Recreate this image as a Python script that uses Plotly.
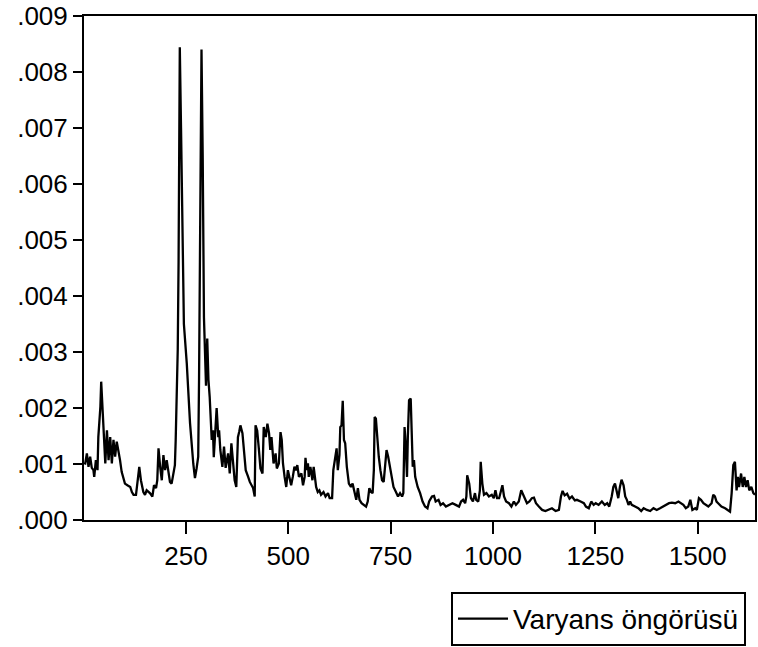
import numpy as np
import plotly.graph_objects as go

# Observation index and variance forecast (in thousandths)
obs = [
    1, 4, 8, 12, 16, 20, 24, 26, 30, 34, 36, 41, 43, 46, 49, 53, 57, 61, 65, 69,
    73, 77, 81, 85, 89, 93, 97, 101, 107, 114, 118, 122, 128, 131, 136, 140, 146, 150, 154, 162,
    168, 172, 177, 180, 183, 187, 191, 195, 199, 203, 207, 211, 215, 219, 223, 225, 227, 230, 232, 234,
    235, 238, 240, 242, 245, 252, 260, 268, 272, 276, 280, 282, 284, 286, 288, 291, 292, 294, 299, 302,
    305, 308, 313, 316, 318, 325, 329, 331, 334, 339, 343, 347, 353, 357, 361, 365, 369, 373, 377, 380,
    383, 388, 391, 396, 402, 406, 414, 418, 420, 424, 428, 432, 437, 440, 445, 449, 453, 456, 459, 464,
    469, 472, 477, 481, 484, 487, 491, 495, 499, 503, 507, 511, 515, 519, 522, 526, 532, 536, 540, 542,
    545, 548, 550, 554, 559, 562, 565, 568, 572, 576, 580, 586, 591, 597, 601, 607, 610, 615, 618, 621,
    625, 627, 630, 633, 636, 639, 643, 648, 653, 657, 662, 666, 670, 674, 679, 686, 690, 694, 698, 702,
    706, 709, 711, 714, 717, 721, 725, 729, 733, 737, 740, 744, 747, 750, 753, 757, 763, 768, 773, 778,
    781, 784, 787, 790, 792, 795, 799, 801, 804, 807, 810, 816, 822, 828, 834, 840, 844, 851, 856, 860,
    867, 872, 878, 885, 893, 901, 909, 917, 922, 927, 932, 935, 937, 942, 946, 951, 956, 959, 964, 968,
    970, 974, 978, 984, 990, 997, 1002, 1006, 1010, 1015, 1023, 1027, 1032, 1039, 1045, 1051, 1056, 1063, 1069, 1073,
    1077, 1083, 1089, 1095, 1100, 1105, 1112, 1120, 1128, 1136, 1144, 1153, 1161, 1166, 1170, 1175, 1181, 1187, 1193, 1200,
    1205, 1214, 1222, 1227, 1234, 1240, 1246, 1251, 1258, 1266, 1273, 1279, 1284, 1290, 1294, 1298, 1302, 1306, 1310, 1314,
    1319, 1323, 1327, 1331, 1335, 1339, 1347, 1355, 1362, 1368, 1376, 1384, 1392, 1400, 1408, 1416, 1424, 1430, 1437, 1445,
    1453, 1459, 1465, 1471, 1477, 1482, 1487, 1494, 1498, 1503, 1508, 1514, 1519, 1526, 1534, 1538, 1542, 1546, 1550, 1558,
    1567, 1575, 1579, 1583, 1587, 1591, 1595, 1598, 1601, 1606, 1610, 1614, 1618, 1622, 1626, 1631, 1636, 1640,
]

variance_milli = [
    1.02, 1.01, 1.19, 0.95, 1.13, 0.93, 0.89, 0.77, 1.07, 0.89, 1.48, 2.02, 2.47, 2.08, 1.66, 1.01, 1.60, 1.07, 1.48, 1.01,
    1.43, 1.13, 1.40, 1.25, 1.07, 0.86, 0.77, 0.65, 0.62, 0.59, 0.50, 0.45, 0.45, 0.62, 0.95, 0.71, 0.50, 0.45, 0.53, 0.48,
    0.42, 0.62, 0.57, 0.71, 1.28, 0.95, 0.71, 1.16, 0.89, 1.07, 0.83, 0.68, 0.65, 0.83, 0.98, 1.43, 2.08, 3.05, 4.60, 6.90,
    8.44, 7.00, 5.76, 4.69, 3.50, 2.80, 1.73, 1.00, 0.75, 0.92, 1.13, 2.50, 4.60, 6.50, 8.40, 6.47, 4.94, 3.62, 2.40, 3.24,
    2.50, 2.20, 1.43, 1.60, 1.12, 2.00, 1.48, 1.60, 1.25, 0.95, 1.31, 0.93, 1.19, 0.83, 1.37, 1.01, 0.71, 0.59, 1.48, 1.57,
    1.69, 1.55, 1.25, 0.89, 0.77, 0.68, 0.57, 0.42, 1.69, 1.60, 1.28, 0.92, 0.83, 1.66, 1.48, 1.72, 1.55, 1.25, 1.48, 1.01,
    1.19, 0.92, 1.01, 1.57, 1.43, 1.01, 0.77, 0.59, 0.89, 0.74, 0.62, 0.77, 0.95, 0.89, 0.98, 0.77, 0.83, 0.62, 0.77, 1.11,
    0.89, 1.01, 0.77, 0.95, 0.71, 0.95, 0.71, 0.59, 0.50, 0.53, 0.45, 0.50, 0.42, 0.48, 0.39, 0.39, 0.89, 1.13, 1.28, 0.89,
    1.16, 1.66, 1.69, 2.13, 1.43, 1.37, 0.95, 0.65, 0.59, 0.65, 0.45, 0.36, 0.57, 0.36, 0.30, 0.27, 0.24, 0.33, 0.57, 0.50,
    0.48, 0.89, 1.84, 1.81, 1.48, 1.13, 0.89, 0.71, 0.68, 1.07, 1.25, 1.13, 1.01, 0.89, 0.77, 0.59, 0.50, 0.42, 0.48, 0.42,
    0.48, 1.66, 1.31, 0.77, 1.48, 2.14, 2.17, 1.48, 0.95, 1.07, 0.77, 0.59, 0.48, 0.33, 0.24, 0.21, 0.33, 0.42, 0.43, 0.33,
    0.36, 0.27, 0.30, 0.24, 0.27, 0.30, 0.27, 0.24, 0.33, 0.36, 0.30, 0.42, 0.80, 0.65, 0.39, 0.33, 0.48, 0.36, 0.33, 0.53,
    1.04, 0.65, 0.45, 0.48, 0.42, 0.45, 0.39, 0.53, 0.39, 0.39, 0.62, 0.42, 0.33, 0.30, 0.24, 0.33, 0.27, 0.33, 0.53, 0.47,
    0.39, 0.30, 0.33, 0.39, 0.40, 0.30, 0.24, 0.18, 0.16, 0.18, 0.21, 0.16, 0.18, 0.42, 0.52, 0.44, 0.47, 0.38, 0.42, 0.35,
    0.36, 0.33, 0.30, 0.24, 0.21, 0.33, 0.27, 0.30, 0.27, 0.33, 0.27, 0.30, 0.24, 0.42, 0.59, 0.65, 0.53, 0.39, 0.59, 0.72,
    0.62, 0.42, 0.36, 0.27, 0.33, 0.27, 0.24, 0.21, 0.16, 0.21, 0.18, 0.16, 0.21, 0.18, 0.21, 0.24, 0.27, 0.30, 0.31, 0.30,
    0.33, 0.30, 0.27, 0.21, 0.24, 0.36, 0.18, 0.21, 0.18, 0.39, 0.36, 0.30, 0.27, 0.24, 0.30, 0.45, 0.42, 0.33, 0.30, 0.24,
    0.21, 0.18, 0.15, 0.48, 0.98, 1.04, 0.53, 0.77, 0.59, 0.83, 0.59, 0.77, 0.59, 0.71, 0.53, 0.59, 0.48, 0.45,
]

y_ticks = [0.000, 0.001, 0.002, 0.003, 0.004, 0.005, 0.006, 0.007, 0.008, 0.009]
y_tick_labels = [".000", ".001", ".002", ".003", ".004", ".005", ".006", ".007", ".008", ".009"]
x_ticks = [250, 500, 750, 1000, 1250, 1500]
series_name = "Varyans öngörüsü"

variance = np.array(variance_milli) / 1000.0

FONT = "Liberation Sans, Arial, sans-serif"

fig = go.Figure()
fig.add_trace(go.Scatter(
    x=obs, y=variance, mode="lines", name=series_name,
    line=dict(color="black", width=2.3),
    showlegend=True,
))

fig.update_layout(
    width=758, height=647,
    margin=dict(l=84, r=1, t=15, b=127),
    paper_bgcolor="white", plot_bgcolor="white",
    font=dict(family=FONT, color="black", size=26),
    legend=dict(
        x=0.9866, xanchor="right", y=-0.1426, yanchor="top",
        bordercolor="black", borderwidth=2, bgcolor="white",
        font=dict(family=FONT, size=28, color="black"),
        itemwidth=50,
    ),
)

fig.update_xaxes(
    range=[1, 1640], tickvals=x_ticks,
    showline=True, linecolor="black", linewidth=2, mirror=True,
    ticks="outside", ticklen=12, tickwidth=2, tickcolor="black",
    showgrid=False, zeroline=False,
    tickfont=dict(family=FONT, size=26, color="black"),
)
fig.update_yaxes(
    range=[0, 0.009], tickvals=y_ticks, ticktext=y_tick_labels,
    showline=True, linecolor="black", linewidth=2, mirror=True,
    ticks="outside", ticklen=9, tickwidth=2, tickcolor="black",
    showgrid=False, zeroline=False,
    tickfont=dict(family=FONT, size=26, color="black"),
)

fig.write_html("out.html")
